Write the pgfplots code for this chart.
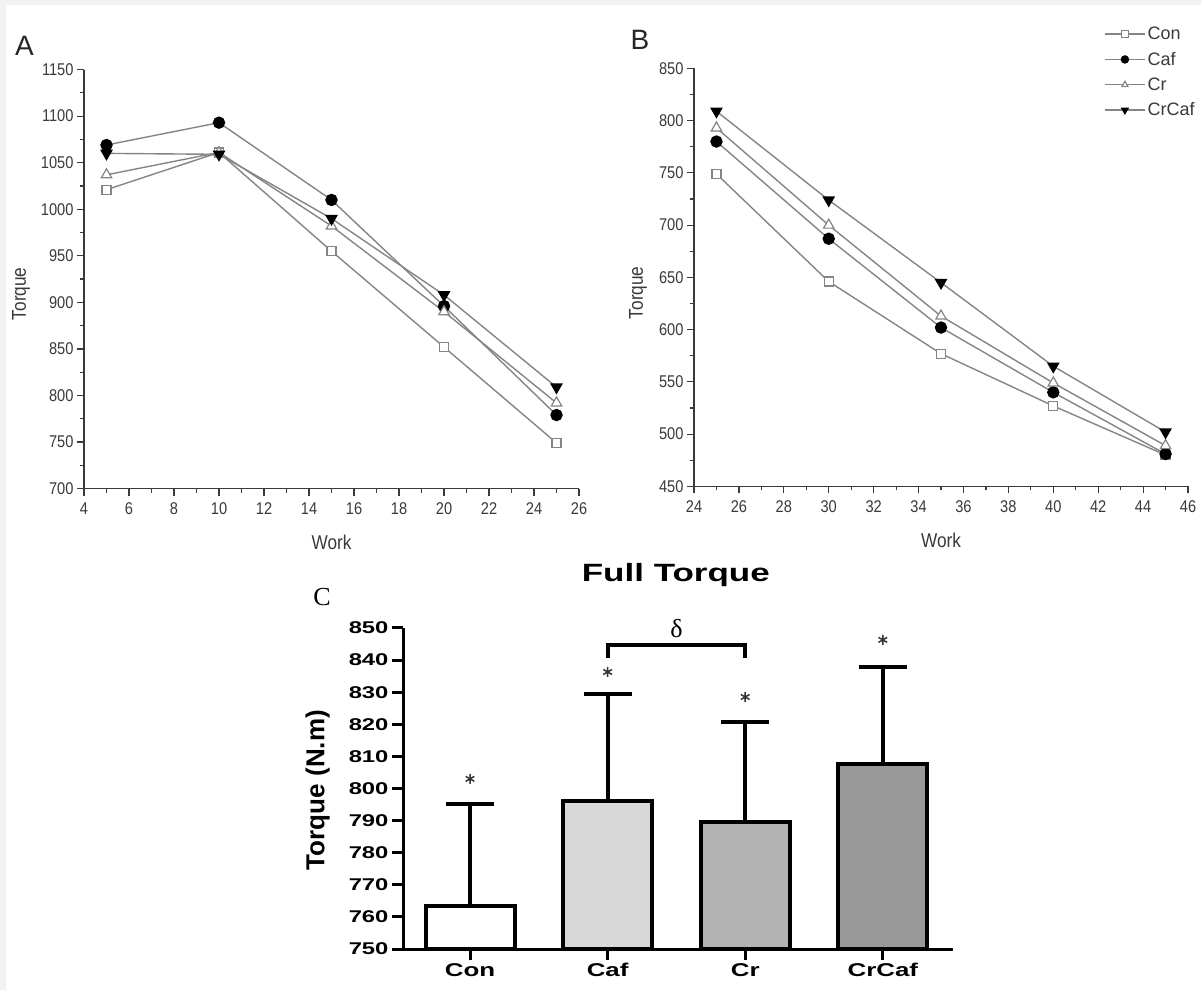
\documentclass[border=0pt]{standalone}
\usepackage{fontspec}
\usepackage{pgfplots}
\pgfplotsset{compat=1.18}
\setmainfont{Liberation Sans}
\newfontfamily\abfont[FakeStretch=0.86]{Liberation Sans}
\newfontfamily\cfont[FakeStretch=1.4]{Liberation Sans}
\newfontfamily\serifC{Liberation Serif}
\definecolor{ln}{HTML}{858585}
\definecolor{axc}{HTML}{3A3A3A}
\definecolor{bgg}{HTML}{F2F2F2}
\definecolor{cafc}{HTML}{D8D8D8}
\definecolor{crc}{HTML}{B3B3B3}
\definecolor{crcafc}{HTML}{999999}
\pgfplotsset{
 abstyle/.style={
  scale only axis, axis lines=left, axis line style={-, line width=1.3pt, axc},
  tick align=outside, major tick length=7pt, minor tick length=4pt, minor tick num=1,
  every tick/.style={line width=1.2pt, axc},
  /pgf/number format/assume math mode=true, /pgf/number format/1000 sep={},
  tick label style={font=\abfont\fontsize{17}{17}\selectfont, text=axc},
  xticklabel style={yshift=-4pt},
  label style={font=\abfont\fontsize{20}{20}\selectfont, text=axc},
  clip=false,
 },
 con/.style={ln, line width=1.4pt, mark=square*, mark size=4.5pt, mark options={fill=white, draw=ln, line width=1.2pt}},
 caf/.style={ln, line width=1.4pt, mark=*, mark size=5.5pt, mark options={fill=black, draw=black}},
 cr/.style={ln, line width=1.4pt, mark=triangle*, mark size=6pt, mark options={fill=white, draw=ln, line width=1.2pt}},
 crcaf/.style={ln, line width=1.4pt, mark=triangle*, mark size=6pt, mark options={fill=black, draw=black, rotate=180}},
 ebar/.style={error bars/.cd, y dir=plus, y explicit,
  error bar style={line width=4pt, black}, error mark options={rotate=90, line width=4pt, mark size=24pt, black}},
}
\begin{document}
\begin{tikzpicture}
\fill[bgg] (0pt,0pt) rectangle (1201pt,990pt);
\fill[white] (6pt,0pt) rectangle (1201pt,985pt);
\path[use as bounding box] (0pt,0pt) rectangle (1201pt,990pt);

% Panel A
\begin{axis}[abstyle, at={(84pt,501.4pt)}, anchor=south west, width=495pt, height=419pt,
  xmin=4, xmax=26, ymin=700, ymax=1150, xtick={4,6,...,26}, ytick={700,750,...,1150},
  xlabel={Work}, ylabel={Torque},
  xlabel style={at={(axis description cs:0.5,-0.129)}, anchor=center},
  ylabel style={at={(axis description cs:-0.127,0.465)}, anchor=center}]
\addplot[con] coordinates {(5,1021)(10,1061)(15,955)(20,852)(25,749)};
\addplot[caf] coordinates {(5,1069)(10,1093)(15,1010)(20,896)(25,779)};
\addplot[cr] coordinates {(5,1037)(10,1061)(15,982)(20,890)(25,792)};
\addplot[crcaf] coordinates {(5,1060)(10,1059)(15,990)(20,908)(25,809)};
\end{axis}

% Panel B
\begin{axis}[abstyle, at={(694pt,503.6pt)}, anchor=south west, width=494pt, height=418pt,
  xmin=24, xmax=46, ymin=450, ymax=850, xtick={24,26,...,46}, ytick={450,500,...,850},
  xlabel={Work}, ylabel={Torque},
  xlabel style={at={(axis description cs:0.5,-0.13)}, anchor=center},
  ylabel style={at={(axis description cs:-0.113,0.463)}, anchor=center},
  legend style={at={(axis description cs:0.830,1.104)}, anchor=north west, draw=none, fill=none,
    font=\fontsize{18}{18}\selectfont, text=axc, row sep=7pt, inner sep=0pt},
  legend cell align=left,
  legend image code/.code={\draw[mark repeat=2,mark phase=2,#1,mark size=3.5pt] plot coordinates {(0pt,0pt) (20pt,0pt) (40pt,0pt)};}]
\addplot[con] coordinates {(25,749)(30,646)(35,577)(40,527)(45,480)};
\addplot[caf] coordinates {(25,780)(30,687)(35,602)(40,540)(45,481)};
\addplot[cr] coordinates {(25,793)(30,700)(35,613)(40,549)(45,489)};
\addplot[crcaf] coordinates {(25,809)(30,724)(35,645)(40,565)(45,502)};
\legend{Con,Caf,Cr,CrCaf}
\end{axis}

% Panel C
\begin{axis}[at={(403pt,41pt)}, anchor=south west, scale only axis, width=550pt, height=321pt,
  xmin=-0.487, xmax=3.51, ymin=750, ymax=850, ytick={750,760,...,850},
  xtick={0,1,2,3}, xticklabels={Con,Caf,Cr,CrCaf},
  axis lines=left, axis line style={-, line width=3pt, black},
  tick align=outside, major tick length=11pt, every tick/.style={line width=3pt, black},
  /pgf/number format/assume math mode=true,
  yticklabel style={font=\cfont\bfseries\fontsize{17}{17}\selectfont},
  xticklabel style={font=\cfont\bfseries\fontsize{18.5}{18.5}\selectfont},
  title={Full Torque},
  title style={at={(axis description cs:0.496,1.146)}, anchor=center, font=\cfont\bfseries\fontsize{25}{25}\selectfont},
  ylabel={Torque (N.m)},
  ylabel style={at={(axis description cs:-0.155,0.495)}, anchor=center, font=\bfseries\fontsize{26}{26}\selectfont},
  ybar, bar width=89pt, bar shift=0pt, clip mode=individual]
\addplot[fill=white, draw=black, line width=4pt, ebar] coordinates {(0,763.5) +- (0,31.8)};
\addplot[fill=cafc, draw=black, line width=4pt, ebar] coordinates {(1,796) +- (0,33.3)};
\addplot[fill=crc, draw=black, line width=4pt, ebar] coordinates {(2,789.7) +- (0,30.9)};
\addplot[fill=crcafc, draw=black, line width=4pt, ebar] coordinates {(3,807.6) +- (0,30.3)};
\addplot[sharp plot, black, line width=4pt, line join=miter, mark=none] coordinates {(1,840.8)(1,844.6)(2,844.6)(2,840.8)};
\addplot[only marks, mark=asterisk, mark size=5pt, black!80, line width=1.5pt] coordinates {(0,803)(1,836.3)(2,828.5)(3,846.3)};
\node[font=\serifC\fontsize{26}{26}\selectfont] at (axis cs:1.5,849.8) {δ};
\end{axis}

\node[font=\fontsize{28}{28}\selectfont, text=black!85] at (24.5pt,944pt) {A};
\node[font=\fontsize{28}{28}\selectfont, text=black!85] at (640pt,950pt) {B};
\node[font=\serifC\fontsize{26}{26}\selectfont] at (322pt,393pt) {C};
\end{tikzpicture}
\end{document}
